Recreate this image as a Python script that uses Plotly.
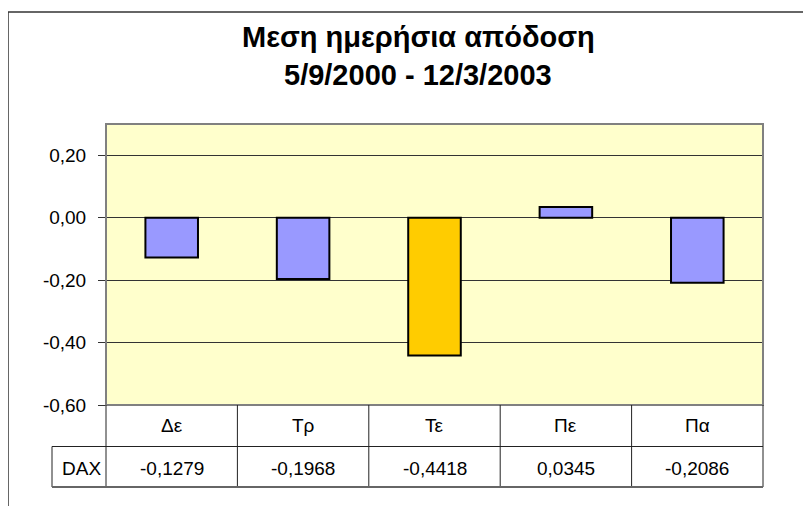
import plotly.graph_objects as go

categories = ["Δε", "Τρ", "Τε", "Πε", "Πα"]
series_name = "DAX"
values = [-0.1279, -0.1968, -0.4418, 0.0345, -0.2086]
bar_colors = ["#9999FF", "#9999FF", "#FFCC00", "#9999FF", "#9999FF"]
tick_vals = [-0.6, -0.4, -0.2, 0.0, 0.2]
tick_text = ["-0,60", "-0,40", "-0,20", "0,00", "0,20"]
title_lines = ["Μεση ημερήσια απόδοση", "5/9/2000 - 12/3/2003"]

W, H = 811, 506
OFF = 8  # page body margin compensation
L, R, T, B = 106 - OFF, 763 - OFF, 124 - OFF, 405 - OFF  # plot area in figure px
PW, PH = R - L, B - T


def px(x):
    """reference page x -> paper fraction"""
    return (x - OFF - L) / PW


def py(y):
    """reference page y -> paper fraction"""
    return (B - (y - OFF)) / PH


FONT = "Liberation Sans, Arial, sans-serif"

fig = go.Figure()
fig.add_trace(go.Bar(
    x=categories, y=values, width=0.4,
    marker=dict(color=bar_colors, line=dict(color="black", width=2)),
    showlegend=False, hoverinfo="x+y",
))

shapes = []
# outer chart frame
shapes.append(dict(type="line", xref="paper", yref="paper", x0=px(8), x1=px(W + 20), y0=py(12), y1=py(12),
                   line=dict(color="#333333", width=1.5)))
shapes.append(dict(type="line", xref="paper", yref="paper", x0=px(8), x1=px(8), y0=py(12), y1=py(H + 20),
                   line=dict(color="#333333", width=1.5)))
# plot area border
shapes.append(dict(type="rect", xref="paper", yref="paper", x0=0, x1=1, y0=0, y1=1,
                   line=dict(color="#808080", width=2), layer="above"))

# data table
ref_B = 405
row1_bot = 446.5
row2_bot = 487
dax_left = 52
ref_L, ref_R = 106, 763
ncat = len(categories)
for i in range(ncat + 1):
    xx = ref_L + (ref_R - ref_L) * i / ncat
    shapes.append(dict(type="line", xref="paper", yref="paper", x0=px(xx), x1=px(xx), y0=py(ref_B), y1=py(row2_bot),
                       line=dict(color="#222222", width=1)))
shapes.append(dict(type="line", xref="paper", yref="paper", x0=px(dax_left), x1=px(dax_left), y0=py(row1_bot), y1=py(row2_bot),
                   line=dict(color="#222222", width=1)))
shapes.append(dict(type="line", xref="paper", yref="paper", x0=px(dax_left), x1=px(ref_R), y0=py(row1_bot), y1=py(row1_bot),
                   line=dict(color="#222222", width=1)))
shapes.append(dict(type="line", xref="paper", yref="paper", x0=px(dax_left), x1=px(ref_R), y0=py(row2_bot), y1=py(row2_bot),
                   line=dict(color="#666666", width=2)))

TF = dict(family=FONT, size=19, color="black")
annotations = []
for i, (c, v) in enumerate(zip(categories, values)):
    cx = px(ref_L + (ref_R - ref_L) * (i + 0.5) / ncat)
    annotations.append(dict(x=cx, y=py(425), xref="paper", yref="paper", text=c, xanchor="center", yanchor="middle",
                            showarrow=False, font=TF))
    txt = ("%.4f" % v).replace(".", ",")
    annotations.append(dict(x=cx, y=py(468), xref="paper", yref="paper", text=txt, xanchor="center", yanchor="middle",
                            showarrow=False, font=TF))
annotations.append(dict(x=px(81), y=py(468), xref="paper", yref="paper", xanchor="center", yanchor="middle",
                        text=series_name, showarrow=False, font=TF))
# title
annotations.append(dict(x=px(418), y=py(37), xref="paper", yref="paper", text="<b>%s</b>" % title_lines[0],
                        xanchor="center", yanchor="middle",
                        showarrow=False, font=dict(family=FONT, size=29, color="black")))
annotations.append(dict(x=px(418), y=py(75), xref="paper", yref="paper", text="<b>%s</b>" % title_lines[1],
                        xanchor="center", yanchor="middle",
                        showarrow=False, font=dict(family=FONT, size=29, color="black")))

fig.update_layout(
    width=W, height=H,
    margin=dict(l=L, r=W - R, t=T, b=H - B, autoexpand=False),
    paper_bgcolor="white", plot_bgcolor="#FFFFCC",
    shapes=shapes, annotations=annotations,
    xaxis=dict(showticklabels=False, showgrid=False, zeroline=False, ticks=""),
    yaxis=dict(range=[-0.6, 0.3], tickvals=tick_vals, ticktext=tick_text, showgrid=True,
               gridcolor="#333333", gridwidth=1, zeroline=False, ticks="outside", ticklen=7,
               tickcolor="#333333", tickfont=TF, ticklabelstandoff=8),
    bargap=0.6,
)

fig.write_html("out.html")
